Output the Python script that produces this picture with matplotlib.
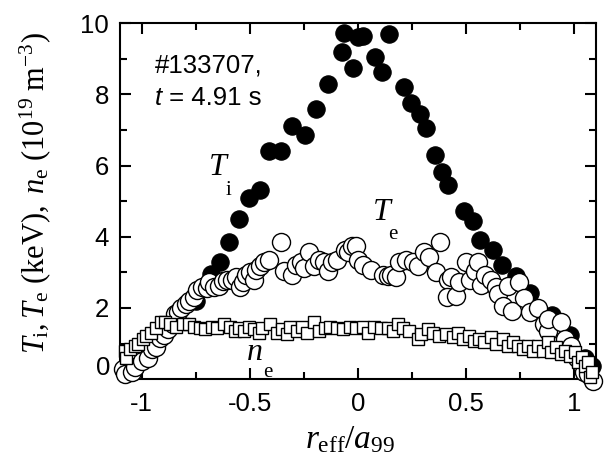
import matplotlib
matplotlib.use("Agg")
import matplotlib.pyplot as plt
from matplotlib.ticker import MultipleLocator
import numpy as np

plt.rcParams['font.family'] = ['Liberation Sans', 'DejaVu Sans']
plt.rcParams['mathtext.fontset'] = 'custom'
plt.rcParams['mathtext.rm'] = 'Liberation Serif'
plt.rcParams['mathtext.it'] = 'Liberation Serif:italic'
plt.rcParams['mathtext.bf'] = 'Liberation Serif:bold'

# ---- data ----
ti_x = [-0.75, -0.70, -0.678, -0.64, -0.595, -0.55, -0.505, -0.452, -0.41, -0.356,
        -0.306, -0.246, -0.195, -0.14, -0.076, -0.022, -0.065, 0.0, 0.025, 0.08,
        0.113, 0.145, 0.214, 0.246, 0.287, 0.315, 0.356, 0.388, 0.418, 0.49,
        0.53, 0.565, 0.625, 0.665, 0.729, 0.795, 0.895, 0.982, 1.05, 1.08]
ti_y = [2.2, 2.65, 2.95, 3.3, 3.84, 4.5, 5.1, 5.3, 6.4, 6.4,
        7.1, 6.85, 7.6, 8.3, 9.2, 8.75, 9.72, 9.6, 9.65, 9.05,
        8.63, 9.7, 8.2, 7.75, 7.45, 7.06, 6.3, 5.83, 5.45, 4.73,
        4.45, 3.92, 3.62, 3.22, 2.9, 2.42, 1.8, 1.25, 0.6, 0.37]

te_x = [-1.087, -1.075, -1.046, -1.03, -1.0, -0.972, -0.954, -0.935, -0.917, -0.895,
        -0.88, -0.857, -0.848, -0.83, -0.816, -0.797, -0.779, -0.76, -0.742, -0.72,
        -0.70, -0.687, -0.665, -0.641, -0.625, -0.605, -0.582, -0.565, -0.545, -0.53,
        -0.517, -0.50, -0.48, -0.471, -0.453, -0.434, -0.41, -0.356, -0.343, -0.306,
        -0.285, -0.264, -0.25, -0.228, -0.205, -0.182, -0.159, -0.14, -0.122, -0.095,
        -0.062, -0.044, -0.03, -0.01, 0.0, 0.025, 0.062, 0.117, 0.14, 0.154,
        0.177, 0.191, 0.223, 0.255, 0.278, 0.306, 0.329, 0.36, 0.38, 0.416,
        0.41, 0.455, 0.43, 0.467, 0.5, 0.517, 0.54, 0.556, 0.568, 0.586,
        0.614, 0.637, 0.646, 0.669, 0.692, 0.71, 0.745, 0.768, 0.797, 0.83,
        0.86, 0.876, 0.876, 0.94, 0.955, 0.985, 1.013, 1.036, 1.045, 1.064, 1.085]
te_y = [0.28, 0.15, 0.2, 0.35, 0.5, 0.6, 0.84, 0.9, 1.15, 1.25,
        1.4, 1.55, 1.82, 1.9, 2.0, 2.1, 2.2, 2.3, 2.5, 2.6,
        2.55, 2.72, 2.6, 2.62, 2.75, 2.8, 2.8, 2.88, 2.6, 2.72,
        2.94, 3.0, 2.8, 3.08, 3.17, 3.28, 3.35, 3.84, 3.05, 2.92,
        3.2, 3.3, 3.13, 3.58, 3.17, 3.36, 3.3, 3.03, 3.3, 3.35,
        3.64, 3.58, 3.75, 3.73, 3.36, 3.22, 3.08, 2.94, 2.9, 2.94,
        2.88, 3.28, 3.36, 3.3, 3.17, 3.56, 3.42, 3.0, 3.84, 2.8,
        2.3, 2.33, 2.88, 2.74, 3.3, 2.8, 3.05, 3.28, 2.65, 2.94,
        2.8, 2.58, 2.38, 2.05, 2.62, 1.92, 2.72, 2.27, 1.88, 2.0,
        1.55, 1.34, 1.68, 1.6, 1.12, 0.92, 0.6, 0.36, 0.2, 0.15, -0.05]

ne_x = [-1.078, -1.073, -1.055, -1.032, -1.018, -0.995, -0.98, -0.958, -0.935, -0.912,
        -0.89, -0.867, -0.843, -0.811, -0.779, -0.756, -0.729, -0.706, -0.674, -0.651,
        -0.618, -0.591, -0.567, -0.549, -0.526, -0.503, -0.48, -0.457, -0.443, -0.407,
        -0.375, -0.352, -0.33, -0.315, -0.283, -0.26, -0.237, -0.205, -0.182, -0.154,
        -0.131, -0.099, -0.067, -0.039, -0.007, 0.025, 0.048, 0.076, 0.108, 0.14,
        0.163, 0.186, 0.209, 0.237, 0.278, 0.292, 0.324, 0.347, 0.375, 0.407,
        0.439, 0.462, 0.485, 0.513, 0.536, 0.558, 0.582, 0.614, 0.637, 0.669,
        0.692, 0.715, 0.738, 0.761, 0.788, 0.811, 0.834, 0.857, 0.876, 0.89,
        0.913, 0.936, 0.959, 0.982, 1.004, 1.018, 1.036, 1.05, 1.064, 1.074, 1.082]
ne_y = [0.78, 0.6, 0.84, 0.92, 0.98, 1.12, 1.2, 1.31, 1.45, 1.62,
        1.6, 1.54, 1.48, 1.54, 1.54, 1.48, 1.45, 1.4, 1.48, 1.45,
        1.54, 1.48, 1.34, 1.45, 1.34, 1.48, 1.4, 1.31, 1.45, 1.54,
        1.31, 1.4, 1.26, 1.48, 1.34, 1.48, 1.31, 1.6, 1.34, 1.45,
        1.48, 1.45, 1.4, 1.48, 1.45, 1.48, 1.31, 1.48, 1.45, 1.45,
        1.34, 1.54, 1.45, 1.34, 1.12, 1.26, 1.4, 1.31, 1.2, 1.26,
        1.18, 1.31, 1.12, 1.2, 1.06, 1.12, 1.04, 1.18, 0.98, 1.12,
        0.92, 1.04, 0.92, 0.84, 0.92, 0.78, 0.92, 0.78, 1.04, 0.76,
        0.9, 0.7, 0.78, 0.64, 0.76, 0.48, 0.62, 0.36, 0.48, 0.06, 0.2]

x_ticks = [-1, -0.5, 0, 0.5, 1]
x_ticklabels = ['-1', '-0.5', '0', '0.5', '1']
y_ticks = [0, 2, 4, 6, 8, 10]
y_ticklabels = ['', '2', '4', '6', '8', '10']

fig = plt.figure(figsize=(6.06, 4.63), dpi=100)
ax = fig.add_axes([0.198, 0.181, 0.7855, 0.769])

ax.plot(ti_x, ti_y, 'o', ms=12.5, color='black', mec='black', mew=0.8, clip_on=False, zorder=3)
ax.plot(te_x, te_y, 'o', ms=13, mfc='white', mec='black', mew=1.0, clip_on=False, zorder=4)
ax.plot(ne_x, ne_y, 's', ms=8, mfc='white', mec='black', mew=1.0, clip_on=False, zorder=5)

ax.set_xlim(-1.1, 1.1)
ax.set_ylim(0, 10)
ax.set_xticks(x_ticks)
ax.set_xticklabels(x_ticklabels)
ax.set_yticks(y_ticks)
ax.set_yticklabels(y_ticklabels)
ax.xaxis.set_minor_locator(MultipleLocator(0.25))
ax.yaxis.set_minor_locator(MultipleLocator(1))
ax.tick_params(which='both', direction='in', top=True, right=True, width=1.5,
               labelsize=18.5)
ax.tick_params(which='major', length=8)
ax.tick_params(which='minor', length=5)
ax.tick_params(axis='x', pad=9)
ax.tick_params(axis='y', pad=8)
for s in ax.spines.values():
    s.set_linewidth(1.5)

# shifted "0" y tick label as in reference
ax.text(-1.146, 0.31, '0', ha='right', va='center', fontsize=18.5, clip_on=False)

ax.set_xlabel(r'$r_{\mathrm{eff}}/a_{\mathrm{99}}$', fontsize=24)
ax.xaxis.set_label_coords(0.483, -0.125)
ax.set_ylabel(r'$T_{\mathrm{i}}, T_{\mathrm{e}}\ \mathrm{(keV)},\ n_{\mathrm{e}}\ \mathrm{(10^{19}\ m^{-3})}$',
              fontsize=22)
ax.yaxis.set_label_coords(-0.141, 0.524)

# annotations
ax.text(-0.938, 8.62, '#133707,', fontsize=18.5, va='baseline', ha='left')
tt = ax.text(-0.938, 7.70, 't', fontsize=18.5, va='baseline', ha='left', style='italic')
ax.annotate(' = 4.91 s', xy=(1, 0), xycoords=tt, fontsize=18.5, va='bottom', ha='left')

serif = 'Liberation Serif'
ax.text(-0.647, 5.95, 'T', family=serif, style='italic', fontsize=23, ha='center', va='center')
ax.text(-0.60, 5.3, 'i', family=serif, fontsize=15, ha='center', va='center')
ax.text(0.109, 4.69, 'T', family=serif, style='italic', fontsize=23, ha='center', va='center')
ax.text(0.16, 4.07, 'e', family=serif, fontsize=15, ha='center', va='center')
ax.text(-0.477, 0.76, 'n', family=serif, style='italic', fontsize=23, ha='center', va='center')
ax.text(-0.417, 0.2, 'e', family=serif, fontsize=15, ha='center', va='center')

fig.savefig('out.png', dpi=100)
